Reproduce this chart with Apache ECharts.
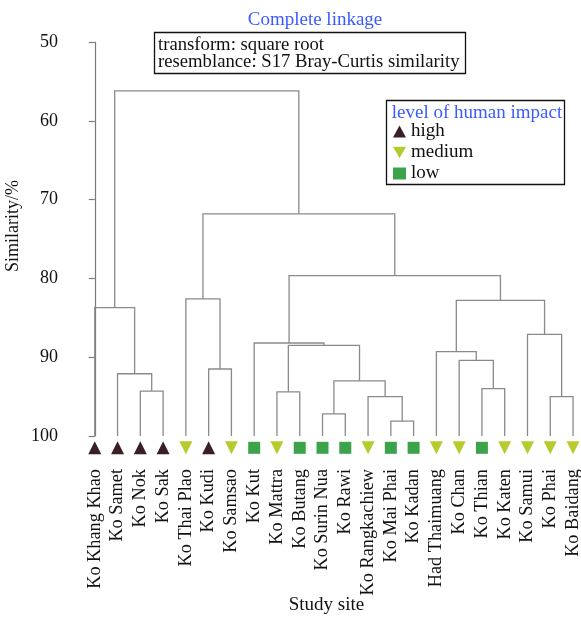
<!DOCTYPE html>
<html>
<head>
<meta charset="utf-8">
<script src="https://cdn.jsdelivr.net/npm/echarts@6/dist/echarts.min.js"></script>
<style>
html,body{margin:0;padding:0;background:#fff;}
#chart{width:581px;height:627px;}
</style>
</head>
<body>
<div id="chart"></div>
<script>
// Leaves (study sites) in dendrogram order
const leaves = ['Ko Khang Khao','Ko Samet','Ko Nok','Ko Sak','Ko Thai Plao','Ko Kudi','Ko Samsao','Ko Kut','Ko Mattra','Ko Butang','Ko Surin Nua','Ko Rawi','Ko Rangkachiew','Ko Mai Phai','Ko Kadan','Had Thaimuang','Ko Chan','Ko Thian','Ko Katen','Ko Samui','Ko Phai','Ko Baidang'];
// Level of human impact per leaf
const impact = ['high','high','high','high','medium','high','medium','low','medium','low','low','low','medium','low','low','medium','medium','low','medium','medium','medium','medium'];
// Merges: node ids 0..21 are leaves, merge k creates node 22+k
const mergeA   = [13, 10, 12, 20, 8,  2,  17, 23, 1,  5,  16, 15, 26, 7,  19, 0,  33, 4,  35, 39, 37];
const mergeB   = [14, 11, 22, 21, 9,  3,  18, 24, 27, 6,  28, 32, 29, 34, 25, 30, 36, 31, 38, 40, 41];
const mergeSim = [98.1,97.2,95.0,95.0,94.4,94.3,94.0,93.0,92.1,91.5,90.4,89.3,88.5,88.2,87.1,83.7,82.8,82.6,79.65,71.8,56.2];
const yTicks = [50, 60, 70, 80, 90, 100];
const levels = ['high','medium','low'];

const SERIF = '"Liberation Serif","DejaVu Serif",serif';
const nodeX = leaves.map((_, i) => i);
const nodeY = leaves.map(() => 100);
const links = [];
for (let k = 0; k < mergeA.length; k++) {
  const a = mergeA[k], b = mergeB[k], s = mergeSim[k];
  links.push([nodeX[a], nodeY[a], nodeX[b], nodeY[b], s]);
  nodeX.push((nodeX[a] + nodeX[b]) / 2);
  nodeY.push(s);
}
const symbolRow = 101.5;
const DOWN_TRI = 'path://M0,0 L10,0 L5,9 Z';
const styleOf = {
  high:   {symbol: 'triangle', rotate: 0,   color: '#3a1f24', icon: 'triangle'},
  medium: {symbol: 'triangle', rotate: 180, color: '#b7cb2e', icon: DOWN_TRI},
  low:    {symbol: 'rect',     rotate: 0,   color: '#3da34b', icon: 'rect'}
};

const scatterSeries = levels.map(lv => ({
  name: lv,
  type: 'scatter',
  clip: false,
  symbol: styleOf[lv].symbol,
  symbolRotate: styleOf[lv].rotate,
  symbolSize: lv === 'low' ? 12 : 13,
  itemStyle: {color: styleOf[lv].color, opacity: 1},
  data: leaves.map((n, i) => impact[i] === lv ? [i, symbolRow] : null).filter(d => d),
  z: 5
}));

const chart = echarts.init(document.getElementById('chart'), null, {renderer: 'canvas'});
chart.setOption({
  backgroundColor: '#fff',
  animation: false,
  textStyle: {fontFamily: SERIF},
  title: {
    text: 'Complete linkage',
    left: 310, top: 6, textAlign: 'center',
    textStyle: {color: '#3b5bff', fontSize: 19, fontWeight: 'normal', fontFamily: SERIF}
  },
  grid: {left: 72, right: 0, top: 42, bottom: 191, containLabel: false, outerBoundsMode: 'none'},
  xAxis: {
    type: 'value', min: -1, max: 21.35, interval: 1,
    name: 'Study site', nameLocation: 'middle', nameGap: 160, nameMoveOverlap: false,
    nameTextStyle: {fontSize: 19, color: '#111', fontFamily: SERIF},
    axisLine: {show: false}, axisTick: {show: false}, splitLine: {show: false},
    axisLabel: {
      rotate: 90, margin: 33, fontSize: 18.3, color: '#111', fontFamily: SERIF,
      showMinLabel: true, showMaxLabel: true,
      formatter: v => (Number.isInteger(v) && v >= 0 && v < leaves.length) ? leaves[v] : ''
    }
  },
  yAxis: {
    type: 'value', inverse: true, min: 50, max: 100, interval: 10,
    name: 'Similarity/%', nameLocation: 'middle', nameGap: 50, nameMoveOverlap: false,
    nameTextStyle: {fontSize: 18, color: '#111', fontFamily: SERIF, padding: [0, 0, 0, 26]},
    axisLine: {show: true, lineStyle: {color: '#7a7a7a', width: 1.2}},
    axisTick: {show: true, length: 6, lineStyle: {color: '#7a7a7a', width: 1.2}},
    splitLine: {show: false},
    axisLabel: {fontSize: 18, color: '#111', margin: 14, fontFamily: SERIF,
      formatter: v => yTicks.includes(v) ? String(v) : ''}
  },
  legend: {
    data: levels.map(lv => ({name: lv, icon: styleOf[lv].icon, itemStyle: {color: styleOf[lv].color, opacity: 1}})),
    orient: 'vertical', left: 393, top: 122,
    itemWidth: 13, itemHeight: 12, itemGap: 2, padding: 0,
    textStyle: {fontSize: 19, color: '#111', fontFamily: SERIF}
  },
  graphic: [
    {type: 'rect', shape: {x: 154.5, y: 32.5, width: 311, height: 41}, style: {fill: 'none', stroke: '#111', lineWidth: 1.3}},
    {type: 'text', x: 158, y: 45, style: {text: 'transform: square root', font: '18.7px ' + SERIF, fill: '#111', textVerticalAlign: 'middle'}},
    {type: 'text', x: 158, y: 62.5, style: {text: 'resemblance: S17 Bray-Curtis similarity', font: '18.7px ' + SERIF, fill: '#111', textVerticalAlign: 'middle'}},
    {type: 'rect', shape: {x: 386.5, y: 100.5, width: 178, height: 84}, style: {fill: 'none', stroke: '#111', lineWidth: 1.3}},
    {type: 'text', x: 477, y: 113, style: {text: 'level of human impact', font: '19px ' + SERIF, fill: '#3b5bff', textAlign: 'center', textVerticalAlign: 'middle'}}
  ],
  series: [
    {
      type: 'custom',
      data: links,
      encode: {x: [0, 2], y: [1, 3, 4]},
      renderItem: (params, api) => {
        const p1 = api.coord([api.value(0), api.value(1)]);
        const p2 = api.coord([api.value(0), api.value(4)]);
        const p3 = api.coord([api.value(2), api.value(4)]);
        const p4 = api.coord([api.value(2), api.value(3)]);
        return {
          type: 'polyline',
          shape: {points: [p1, p2, p3, p4]},
          style: {stroke: '#8a8a8a', lineWidth: 1.3, fill: null}
        };
      },
      z: 2
    }
  ].concat(scatterSeries)
});
</script>
</body>
</html>
